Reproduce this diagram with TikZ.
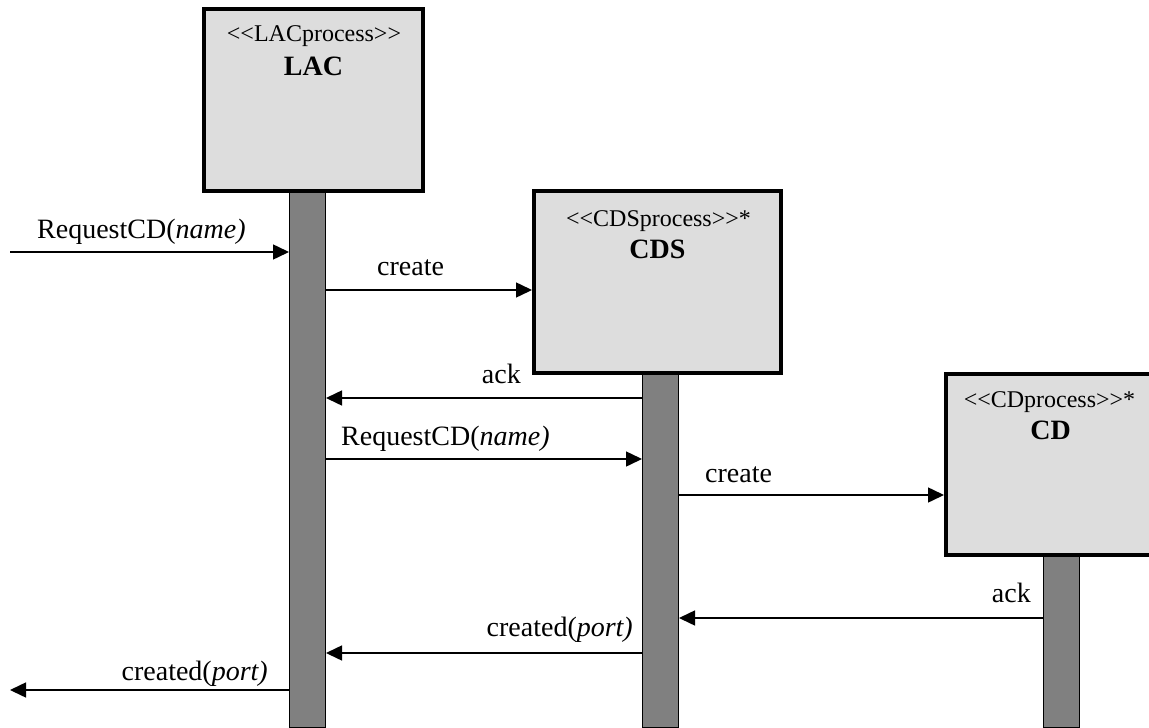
\documentclass[tikz,border=0pt]{standalone}
\usepackage{fontspec}
\setmainfont{Liberation Serif}
\usetikzlibrary{arrows.meta}
\tikzset{
  procbox/.style={draw=black, line width=4pt, fill=boxgray, inner sep=0pt, rectangle},
  lifebar/.style={draw=black, line width=1pt, fill=bargray, inner sep=0pt, rectangle, minimum width=36pt},
  msg/.style={line width=1.5pt, -{Triangle[length=16pt,width=15pt]}},
  lbl/.style={inner sep=0pt, font=\fontsize{28}{32}\selectfont},
  stereo/.style={inner sep=0pt, anchor=base, font=\fontsize{24}{28}\selectfont},
  title/.style={inner sep=0pt, anchor=base, font=\fontsize{28}{32}\selectfont\bfseries},
}
\definecolor{boxgray}{HTML}{DDDDDD}
\definecolor{bargray}{HTML}{808080}
\begin{document}
\begin{tikzpicture}[x=1pt,y=-1pt]
\useasboundingbox (0,0) rectangle (1149,728);
\clip (0,0) rectangle (1149,728);
% lifeline bars
\node[lifebar, minimum height=537pt] (lacbar) at (307.5,458.5) {};
\node[lifebar, minimum height=355pt] (cdsbar) at (660.5,549.5) {};
\node[lifebar, minimum height=172pt] (cdbar) at (1061.5,641) {};
% process boxes
\node[procbox, minimum width=219pt, minimum height=182pt] (lac) at (313.5,100) {};
\node[procbox, minimum width=247pt, minimum height=182pt] (cds) at (657.5,282) {};
\node[procbox, minimum width=230pt, minimum height=181pt] (cd) at (1061,464.5) {};
% box texts
\node[stereo] (lacst) at (314,41) {<{}<LACprocess>{}>};
\node[title] (lacti) at (313.5,75) {LAC};
\node[stereo] (cdsst) at (658.5,226) {<{}<CDSprocess>{}>*};
\node[title] (cdsti) at (657.5,258) {CDS};
\node[stereo] (cdst) at (1049.5,407) {<{}<CDprocess>{}>*};
\node[title] (cdti) at (1050.5,439) {CD};
% free ends
\coordinate (inL) at (10,252);
\coordinate (outL) at (10,690);
% messages
\draw[msg] (inL) -- (lacbar.west |- inL);
\draw[msg] (lacbar.east |- 0,290) -- (cds.west |- 0,290);
\draw[msg] (cdsbar.west |- 0,398) -- (lacbar.east |- 0,398);
\draw[msg] (lacbar.east |- 0,459) -- (cdsbar.west |- 0,459);
\draw[msg] (cdsbar.east |- 0,495) -- (cd.west |- 0,495);
\draw[msg] (cdbar.west |- 0,618) -- (cdsbar.east |- 0,618);
\draw[msg] (cdsbar.west |- 0,653) -- (lacbar.east |- 0,653);
\draw[msg] (lacbar.west |- outL) -- (outL);
% labels
\node[lbl, anchor=base west] (l1) at (37,238) {RequestCD(\textit{name)}};
\node[lbl, anchor=base west] (l2) at (377,275) {create};
\node[lbl, anchor=base east] (l3) at (521,383) {ack};
\node[lbl, anchor=base west] (l4) at (341,445) {RequestCD(\textit{name)}};
\node[lbl, anchor=base west] (l5) at (705,482) {create};
\node[lbl, anchor=base east] (l6) at (1031,602) {ack};
\node[lbl, anchor=base east] (l7) at (633,636) {created(\textit{port)}};
\node[lbl, anchor=base east] (l8) at (268,680) {created(\textit{port)}};
\end{tikzpicture}
\end{document}
